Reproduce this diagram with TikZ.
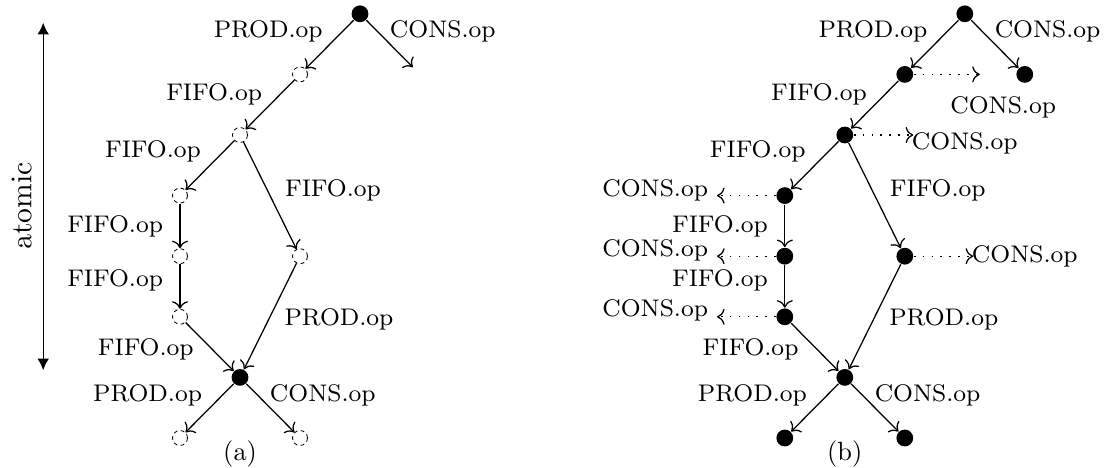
\documentclass[tikz,border=0pt]{standalone}
\usetikzlibrary{arrows.meta}
\font\labfont=cmr8 at 11.4pt
\font\capfont=cmr10 at 12.5pt
\font\sidefont=cmr10 at 14pt

\begin{document}
\begin{tikzpicture}[
  semithick,
  every node/.style={font=\labfont},
  captxt/.style={font=\capfont},
  sidetxt/.style={font=\sidefont, rotate=90},
  hol/.style={circle, draw, thin, dash pattern=on 1.8pt off 1.6pt, inner sep=0pt, minimum size=0.25cm},
  dot/.style={circle, fill=black, inner sep=0pt, minimum size=0.28cm},
  ar/.style={-{To[length=3.6pt,width=7.6pt]}},
  dar/.style={-{To[length=3.6pt,width=7.6pt]}, dash pattern=on 0.8pt off 3.4pt}]
\useasboundingbox (0,0) rectangle (18.5,-7.8);

% ---------------- atomic span ----------------
\coordinate (atop) at (0.72,-0.38);
\coordinate (abot) at (0.72,-6.17);
\draw[{Latex[length=5.5pt,width=5.5pt]}-{Latex[length=5.5pt,width=5.5pt]}] (atop) -- (abot);
\node[sidetxt] (atom) at (0.36,-3.43) {atomic};

% ---------------- picture (a) ----------------
\node[dot] (a0) at (6,-0.23) {};
\node[hol] (a1) at (5,-1.24) {};
\node[hol] (a2) at (4,-2.25) {};
\node[hol] (a3) at (3,-3.26) {};
\node[hol] (a4) at (3,-4.27) {};
\node[hol] (a5) at (3,-5.28) {};
\node[hol] (a6) at (5,-4.27) {};
\node[dot] (a7) at (4,-6.29) {};
\node[hol] (a8) at (3,-7.30) {};
\node[hol] (a9) at (5,-7.30) {};
\coordinate (ac) at (6.88,-1.12);
\draw[ar] (a0) -- (ac);

\node (lpa0) at (4.47,-0.52) {PROD.op};
\node (lca0) at (7.38,-0.52) {CONS.op};
\node (lfa1) at (3.57,-1.57) {FIFO.op};
\node (lfa2) at (2.55,-2.53) {FIFO.op};
\node (lfa6) at (5.55,-3.17) {FIFO.op};
\node (lfa3) at (1.92,-3.78) {FIFO.op};
\node (lfa4) at (1.92,-4.68) {FIFO.op};
\node (lpa6) at (5.65,-5.33) {PROD.op};
\node (lfa5) at (2.43,-5.83) {FIFO.op};
\node (lpa7) at (2.46,-6.60) {PROD.op};
\node (lca7) at (5.38,-6.60) {CONS.op};
\node[captxt] (capa) at (4,-7.56) {(a)};

% ---------------- picture (b) ----------------
\node[dot] (b0) at (16.08,-0.23) {};
\node[dot] (b1) at (15.08,-1.24) {};
\node[dot] (b2) at (14.08,-2.25) {};
\node[dot] (b3) at (13.08,-3.26) {};
\node[dot] (b4) at (13.08,-4.27) {};
\node[dot] (b5) at (13.08,-5.28) {};
\node[dot] (b6) at (15.08,-4.27) {};
\node[dot] (b7) at (14.08,-6.29) {};
\node[dot] (b8) at (13.08,-7.30) {};
\node[dot] (b9) at (15.08,-7.30) {};
\node[dot] (bc) at (17.08,-1.24) {};
\draw[ar] (b0) -- (bc);

\node (lpb0) at (14.55,-0.52) {PROD.op};
\node (lcb0) at (17.46,-0.52) {CONS.op};
\node (lfb1) at (13.65,-1.57) {FIFO.op};
\node (lfb2) at (12.63,-2.53) {FIFO.op};
\node (lfb6) at (15.63,-3.17) {FIFO.op};
\node (lfb3) at (12.00,-3.78) {FIFO.op};
\node (lfb4) at (12.00,-4.68) {FIFO.op};
\node (lpb6) at (15.73,-5.33) {PROD.op};
\node (lfb5) at (12.51,-5.83) {FIFO.op};
\node (lpb7) at (12.54,-6.60) {PROD.op};
\node (lcb7) at (15.46,-6.60) {CONS.op};
\node[captxt] (capb) at (14.08,-7.56) {(b)};

% ---------------- consumer reads (dotted) ----------------
\coordinate (d1) at (16.33,-1.24);
\coordinate (d2) at (15.22,-2.25);
\coordinate (d3) at (11.95,-3.26);
\coordinate (d4) at (11.95,-4.27);
\coordinate (d5) at (11.95,-5.28);
\coordinate (d6) at (16.22,-4.27);
\foreach \c in {1,...,6}{
  \draw[dar] (b\c) -- (d\c);
}
\node (lcd1) at (16.72,-1.80) {CONS.op};
\node (lcd2) at (16.08,-2.40) {CONS.op};
\node (lcd3) at (10.92,-3.18) {CONS.op};
\node (lcd4) at (10.92,-4.18) {CONS.op};
\node (lcd5) at (10.92,-5.18) {CONS.op};
\node (lcd6) at (17.08,-4.28) {CONS.op};

% ---------------- edges, both pictures ----------------
\foreach \c in {a,b}{
  \draw[ar] (\c0) -- (\c1);
  \draw[ar] (\c1) -- (\c2);
  \draw[ar] (\c2) -- (\c3);
  \draw[ar] (\c2) -- (\c6);
  \draw[ar] (\c3) -- (\c4);
  \draw[ar] (\c4) -- (\c5);
  \draw[ar] (\c5) -- (\c7);
  \draw[ar] (\c6) -- (\c7);
  \draw[ar] (\c7) -- (\c8);
  \draw[ar] (\c7) -- (\c9);
}
\end{tikzpicture}
\end{document}
